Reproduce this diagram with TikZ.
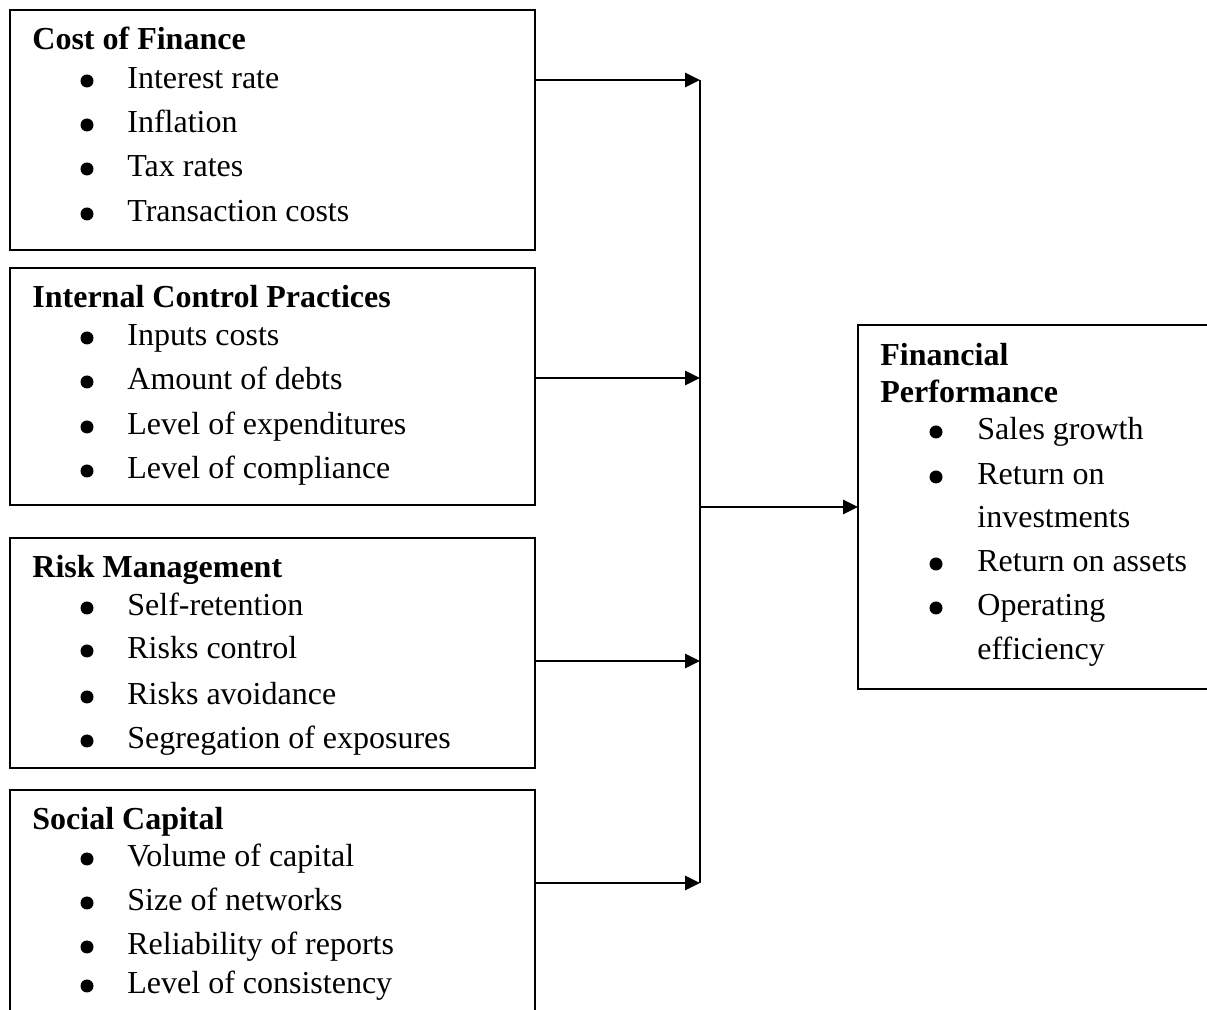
\documentclass[tikz,border=0pt]{standalone}
\usepackage{fontspec}
\setmainfont{Liberation Serif}
\usetikzlibrary{arrows.meta}
\tikzset{
  px/.style={x=0.5pt,y=-0.5pt},
  box/.style={draw=black,line width=1pt,anchor=north west,inner sep=0pt,outer sep=0pt},
  ttl/.style={anchor=base west,inner sep=0pt,font=\fontsize{16}{19}\selectfont\bfseries},
  itm/.style={anchor=base west,inner sep=0pt,font=\fontsize{16}{19}\selectfont},
  arr/.style={line width=1.4pt,-{Triangle[length=7.5pt,width=7pt]}},
  conn/.style={line width=1pt},
}
\newcommand\bulat[2]{\fill[black] (#1,#2-8) circle[radius=6.5];}
\begin{document}
\begin{tikzpicture}[px]
\useasboundingbox (0,0) rectangle (1207,1010);
% boxes
\node[box,minimum width=262.5pt,minimum height=120pt] (b1) at (10,10) {};
\node[box,minimum width=262.5pt,minimum height=118.5pt] (b2) at (10,268) {};
\node[box,minimum width=262.5pt,minimum height=115pt] (b3) at (10,538) {};
\node[box,minimum width=262.5pt,minimum height=115pt] (b4) at (10,790) {};
\node[box,minimum width=178pt,minimum height=182pt] (fin) at (858,325) {};
% box 1
\node[ttl] (t1) at (32,50) {Cost of Finance};
\node[itm] (a1) at (127,89) {Interest rate};
\node[itm] (a2) at (127,133) {Inflation};
\node[itm] (a3) at (127,177) {Tax rates};
\node[itm] (a4) at (127,222) {Transaction costs};
\bulat{87}{89}\bulat{87}{133}\bulat{87}{177}\bulat{87}{222}
% box 2
\node[ttl] (t2) at (32,308) {Internal Control Practices};
\node[itm] (c1) at (127,346) {Inputs costs};
\node[itm] (c2) at (127,390) {Amount of debts};
\node[itm] (c3) at (127,435) {Level of expenditures};
\node[itm] (c4) at (127,479) {Level of compliance};
\bulat{87}{346}\bulat{87}{390}\bulat{87}{435}\bulat{87}{479}
% box 3
\node[ttl] (t3) at (32,578) {Risk Management};
\node[itm] (r1) at (127,616) {Self-retention};
\node[itm] (r2) at (127,659) {Risks control};
\node[itm] (r3) at (127,705) {Risks avoidance};
\node[itm] (r4) at (127,749) {Segregation of exposures};
\bulat{87}{616}\bulat{87}{659}\bulat{87}{705}\bulat{87}{749}
% box 4
\node[ttl] (t4) at (32,830) {Social Capital};
\node[itm] (s1) at (127,867) {Volume of capital};
\node[itm] (s2) at (127,911) {Size of networks};
\node[itm] (s3) at (127,955) {Reliability of reports};
\node[itm] (s4) at (127,994) {Level of consistency};
\bulat{87}{867}\bulat{87}{911}\bulat{87}{955}\bulat{87}{994}
% financial performance
\node[ttl] (f0) at (880,366) {Financial};
\node[ttl] (f00) at (880,403) {Performance};
\node[itm] (f1) at (977,440) {Sales growth};
\node[itm] (f2) at (977,485) {Return on};
\node[itm] (f2b) at (977,528) {investments};
\node[itm] (f3) at (977,572) {Return on assets};
\node[itm] (f4) at (977,616) {Operating};
\node[itm] (f4b) at (977,660) {efficiency};
\bulat{936}{440}\bulat{936}{485}\bulat{936}{572}\bulat{936}{616}
% connectors
\coordinate (j1) at (700,80);
\coordinate (j2) at (700,378);
\coordinate (j3) at (700,661);
\coordinate (j4) at (700,883);
\draw[conn] (j1) -- (j4);
\draw[arr] (b1.east |- j1) -- (j1);
\draw[arr] (b2.east |- j2) -- (j2);
\draw[arr] (b3.east |- j3) -- (j3);
\draw[arr] (b4.east |- j4) -- (j4);
\draw[arr] (fin.west -| j1) -- (fin.west);
\end{tikzpicture}
\end{document}
